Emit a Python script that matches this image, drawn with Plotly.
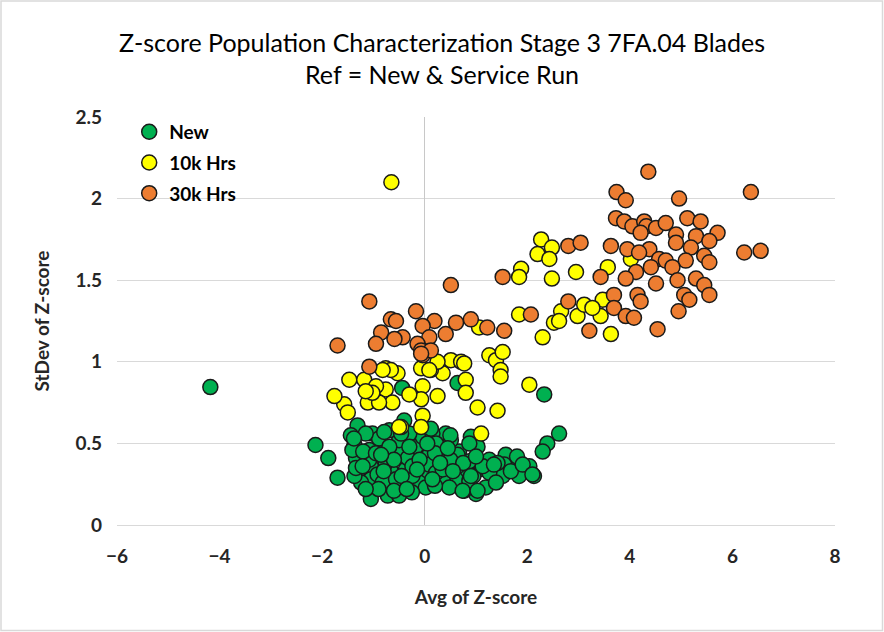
import plotly.graph_objects as go

# Blade populations: average and standard deviation of Z-score
new_avg = [-4.18, 2.33, 0.64, -0.44, 2.62, 2.39, 2.30, -2.13, -1.88, -1.70, -1.31, -1.02, -0.40, 0.41,
           0.90, -1.37, -1.08, -0.76, -0.50, -0.17, 0.09, 0.35, 0.67, 1.26, 1.58, 1.55, 1.84, 2.04,
           2.13, 1.84, 1.52, 1.19, 1.06, 0.74, 0.61, 0.35, -0.04, -0.37, -0.66, -1.05, -1.28, -1.05,
           -1.24, -1.05, -0.72, -0.43, -0.11, 0.09, 0.22, 1.10, 1.00, 0.77, 0.48, 0.87, -0.33, -1.08,
           -1.34, -1.37, -0.76, -0.50, -0.89, -0.04, 0.15, 0.51, 0.64, 0.22, -0.69, -0.30, -0.69,
           -1.15, 1.42, 1.68, 1.26, 1.39, -1.34, -0.92, -0.82, -0.56, -0.24, -0.24, 0.02, 0.35, 0.64,
           0.87, 1.03, -1.44, -1.41, -0.50, 0.95, 1.80,
           -0.79, -0.46, 0.12, 0.50, 0.87, 1.13, -1.20, -0.95, -0.60, -0.10, 0.20, 0.50, 0.75, 1.00,
           -0.90, -0.60, -0.25, 0.20, 0.55, 0.15, -0.45, -0.80, -1.15, -0.30, 0.05, 0.45, -0.85,
           1.35, 1.91, 2.10, 0.74, 1.03, -1.21, -1.38, 0.30, -0.15, 0.90, -0.35]
new_std = [0.845, 0.80, 0.87, 0.84, 0.56, 0.50, 0.45, 0.49, 0.41, 0.29, 0.61, 0.56, 0.64, 0.56,
           0.54, 0.49, 0.46, 0.47, 0.44, 0.48, 0.43, 0.46, 0.45, 0.40, 0.43, 0.37, 0.38, 0.36,
           0.30, 0.30, 0.30, 0.23, 0.34, 0.30, 0.28, 0.28, 0.30, 0.34, 0.33, 0.36, 0.34, 0.28,
           0.26, 0.16, 0.18, 0.25, 0.26, 0.37, 0.32, 0.36, 0.19, 0.21, 0.23, 0.27, 0.41, 0.40,
           0.41, 0.30, 0.38, 0.52, 0.53, 0.54, 0.56, 0.52, 0.43, 0.50, 0.48, 0.56, 0.58,
           0.56, 0.38, 0.33, 0.32, 0.26, 0.35, 0.31, 0.26, 0.28, 0.30, 0.36, 0.23, 0.34, 0.36,
           0.39, 0.48, 0.55, 0.46, 0.18, 0.30, 0.42,
           0.57, 0.56, 0.59, 0.55, 0.50, 0.36, 0.45, 0.44, 0.40, 0.40, 0.44, 0.40, 0.38, 0.42,
           0.22, 0.21, 0.20, 0.24, 0.33, 0.28, 0.30, 0.33, 0.22, 0.48, 0.50, 0.47, 0.43,
           0.37, 0.37, 0.31, 0.21, 0.21, 0.36, 0.53, 0.38, 0.34, 0.30, 0.22]

hrs10k_avg = [-0.65, 2.27, 2.48, 2.20, 2.43, 1.88, 1.84, 2.48, 2.95, 3.57, 4.02,
              1.84, 2.66, 2.52, 2.98, 3.11, 3.43, 3.47, 3.27, 2.30, 3.63, 2.62,
              1.06, 0.51, 0.71, 1.26, 1.39, 1.52, 1.48, 1.48, 2.04, 0.77, 0.35, 0.12, -0.07,
              0.25, 0.80, 0.80, 1.03, 1.42, -0.04, 0.25, -0.07, -0.30, -0.04, -0.07, -0.46,
              1.10, -0.76, -0.53, -0.66, -0.82, -1.47, -1.18, -0.76, -0.63, -1.11, -1.57,
              -1.50, -1.76, -0.95, -0.89, -1.02, -0.50, -1.15, 0.09]
hrs10k_std = [2.10, 1.75, 1.70, 1.66, 1.63, 1.57, 1.52, 1.51, 1.55, 1.58, 1.63,
              1.29, 1.31, 1.24, 1.28, 1.35, 1.28, 1.38, 1.33, 1.15, 1.17, 1.25,
              1.21, 1.01, 1.00, 1.04, 1.01, 1.06, 0.95, 0.91, 0.86, 0.99, 0.93, 0.95, 0.96,
              1.00, 0.89, 0.81, 0.72, 0.70, 0.85, 0.79, 0.77, 0.80, 0.67, 0.60, 0.60,
              0.56, 0.96, 0.93, 0.95, 0.95, 0.89, 0.89, 0.83, 0.75, 0.75, 0.74,
              0.69, 0.79, 0.85, 0.75, 0.81, 0.60, 0.82, 0.95]

hrs30k_avg = [4.36, 3.74, 3.92, 4.96, 6.36, 3.73, 3.89, 4.05, 4.28, 4.32, 4.51, 4.70, 5.12, 5.38,
              4.21, 4.90, 5.29, 5.71, 5.55, 2.80, 3.04, 3.63, 3.95, 4.38, 4.90, 5.19, 6.23, 6.55,
              4.18, 4.57, 4.70, 5.09, 5.45, 5.55, 4.41, 4.83, 4.12, 3.43, 3.92, 4.93, 5.29, 5.45,
              4.51, 3.69, 4.15, 4.21, 5.06, 5.16, 5.55, 2.80, 3.69, 3.92, 4.08, 4.95, 3.21, 4.54,
              0.51, 1.52, 2.07, 0.90, 1.22, 1.55, 0.41,
              -1.08, -0.17, -0.66, -0.56, 0.19, 0.61, -0.85, -0.04, -0.43, -0.59, 0.09, -0.95,
              -1.70, -0.14, -0.07, -0.04, 0.12, -1.08, -0.07]
hrs30k_std = [2.165, 2.04, 1.99, 2.00, 2.04, 1.88, 1.86, 1.83, 1.86, 1.83, 1.82, 1.85, 1.88, 1.86,
              1.79, 1.78, 1.77, 1.79, 1.74, 1.71, 1.73, 1.71, 1.69, 1.69, 1.73, 1.70, 1.67, 1.68,
              1.67, 1.63, 1.62, 1.62, 1.65, 1.61, 1.58, 1.58, 1.55, 1.52, 1.51, 1.50, 1.51, 1.47,
              1.48, 1.41, 1.41, 1.37, 1.41, 1.38, 1.41, 1.37, 1.33, 1.28, 1.27, 1.31, 1.19, 1.20,
              1.47, 1.52, 1.29, 1.26, 1.21, 1.19, 1.17,
              1.37, 1.31, 1.26, 1.25, 1.25, 1.24, 1.18, 1.22, 1.15, 1.14, 1.15, 1.11,
              1.10, 1.11, 1.07, 1.04, 1.07, 0.97, 1.05]

series_names = ["New", "10k Hrs", "30k Hrs"]
series_colors = ["#00B050", "#FFFF00", "#ED7D31"]
title_lines = ["Z-score Population Characterization Stage 3 7FA.04 Blades",
               "Ref = New &amp; Service Run"]

FONT = "Lato, 'Open Sans', sans-serif"
TEXT = "#262626"

fig = go.Figure()
for name, color, xs, ys in zip(series_names, series_colors,
                               [new_avg, hrs10k_avg, hrs30k_avg],
                               [new_std, hrs10k_std, hrs30k_std]):
    fig.add_trace(go.Scatter(
        x=xs, y=ys, mode="markers", name=name, legendgroup=name,
        marker=dict(size=15, color=color, line=dict(color="#1a1a1a", width=1.5)),
    ))

W, H = 884, 632
ML, MR, MT, MB = 117, 49, 117, 107
pw, ph = W - ML - MR, H - MT - MB

fig.update_layout(
    width=W, height=H,
    margin=dict(l=ML, r=MR, t=MT, b=MB),
    paper_bgcolor="white", plot_bgcolor="white",
    font=dict(family=FONT, color=TEXT),
    showlegend=True,
    legend=dict(
        x=0.017, y=1.01, xanchor="left", yanchor="top",
        bgcolor="rgba(0,0,0,0)", borderwidth=0,
        font=dict(size=19, family=FONT, color="#000000", weight="bold"),
        tracegroupgap=3, itemwidth=30,
    ),
    xaxis=dict(
        range=[-6, 8], dtick=2, tick0=-6,
        showgrid=False, zeroline=True, zerolinecolor="#C8C8C8", zerolinewidth=1,
        showline=False, ticks="", ticklabelstandoff=18,
        tickfont=dict(size=19, family=FONT, color=TEXT, weight="bold"),
        title=dict(text="Avg of Z-score", standoff=24,
                   font=dict(size=19, family=FONT, color=TEXT, weight="bold")),
    ),
    yaxis=dict(
        range=[0, 2.5], dtick=0.5, tick0=0,
        showgrid=True, gridcolor="#D9D9D9", gridwidth=1,
        zeroline=True, zerolinecolor="#D9D9D9", zerolinewidth=1,
        showline=False, ticks="", ticklabelstandoff=14,
        tickfont=dict(size=19, family=FONT, color=TEXT, weight="bold"),
        title=dict(text="StDev of Z-score", standoff=20,
                   font=dict(size=19, family=FONT, color=TEXT, weight="bold")),
    ),
)

# Two-line chart title, centred on the figure
for line, ypx in zip(title_lines, [42, 74]):
    fig.add_annotation(
        text=line, showarrow=False,
        xref="paper", yref="paper",
        x=(W / 2 - ML) / pw, y=(H - MB - ypx) / ph,
        xanchor="center", yanchor="middle",
        font=dict(size=25, family=FONT, color="#000000"),
    )

# Light frame around the whole chart area
fig.add_shape(
    type="rect", xref="paper", yref="paper",
    x0=(1 - ML) / pw, x1=1 + (MR - 1.5) / pw,
    y0=-(MB - 1.5) / ph, y1=1 + (MT - 1) / ph,
    line=dict(color="#D9D9D9", width=1.5), fillcolor="rgba(0,0,0,0)", layer="below",
)

fig.write_html("out.html")
